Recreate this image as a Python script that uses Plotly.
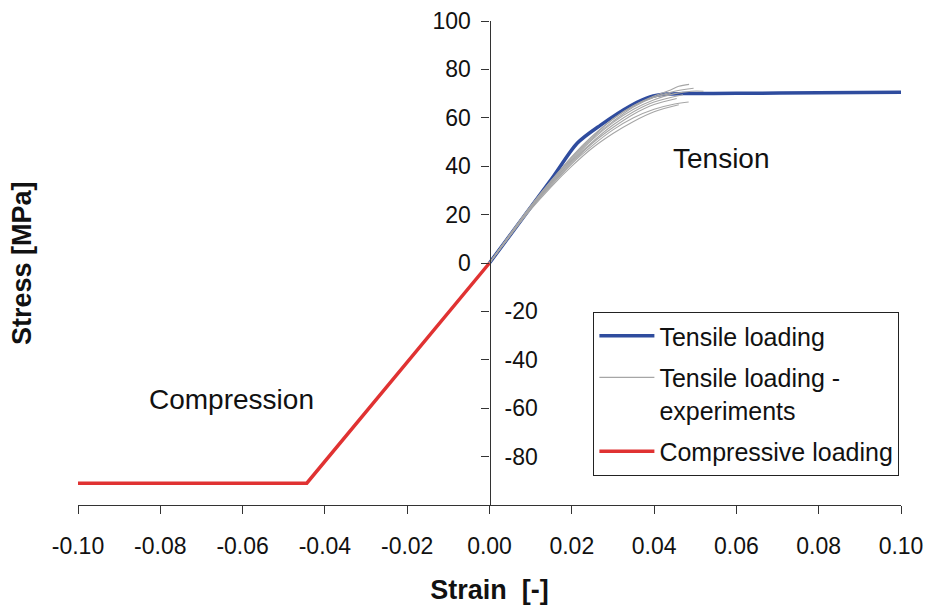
import plotly.graph_objects as go

# ---------------- data ----------------
tens_strain = [0.0, 0.006, 0.0152, 0.0213, 0.027, 0.0343, 0.039, 0.043, 0.047, 0.060, 0.080, 0.100]
tens_stress = [0.0, 13.8, 35.0, 49.5, 57.0, 65.0, 68.6, 69.8, 70.0, 70.1, 70.3, 70.6]

comp_strain = [-0.100, -0.0444, 0.0]
comp_stress = [-91.0, -91.0, 0.0]

exp_strain = [
    [0.0, 0.005, 0.010, 0.015, 0.020, 0.025, 0.030, 0.035, 0.040, 0.044, 0.046, 0.0485],
    [0.0, 0.005, 0.010, 0.015, 0.020, 0.025, 0.030, 0.035, 0.040, 0.045, 0.049, 0.052],
    [0.0, 0.005, 0.010, 0.015, 0.020, 0.025, 0.030, 0.035, 0.040, 0.045, 0.0496],
    [0.0, 0.005, 0.010, 0.015, 0.020, 0.025, 0.030, 0.035, 0.040, 0.045, 0.0484],
    [0.0, 0.005, 0.010, 0.015, 0.020, 0.025, 0.030, 0.035, 0.040, 0.046],
    [0.0, 0.005, 0.010, 0.015, 0.020, 0.025, 0.030, 0.035, 0.040, 0.044],
    [0.0, 0.005, 0.010, 0.015, 0.020, 0.025, 0.030, 0.035, 0.040, 0.047],
    [0.0, 0.005, 0.010, 0.015, 0.020, 0.025, 0.030, 0.035, 0.040, 0.0455],
]
exp_stress = [
    [0.0, 12.0, 23.5, 34.0, 44.0, 52.5, 59.5, 65.0, 69.0, 71.5, 73.0, 73.8],
    [0.0, 11.5, 23.0, 33.0, 42.5, 51.0, 58.0, 63.5, 67.5, 70.0, 71.0, 71.0],
    [0.0, 11.8, 23.2, 33.5, 43.0, 51.5, 58.5, 64.5, 68.5, 71.0, 72.2],
    [0.0, 11.3, 22.5, 32.0, 41.0, 48.5, 55.0, 60.0, 63.5, 65.7, 66.5],
    [0.0, 11.2, 22.0, 31.5, 40.0, 47.5, 53.5, 58.5, 62.5, 65.4],
    [0.0, 11.8, 23.5, 34.0, 43.5, 52.0, 59.5, 65.0, 68.5, 70.0],
    [0.0, 11.5, 22.8, 33.0, 42.0, 50.0, 57.0, 62.5, 66.5, 69.5],
    [0.0, 11.4, 22.6, 32.5, 41.5, 49.5, 56.0, 61.5, 65.5, 68.0],
]

y_pos_ticks = [0, 20, 40, 60, 80, 100]
y_neg_ticks = [-20, -40, -60, -80]
x_ticks = [-0.10, -0.08, -0.06, -0.04, -0.02, 0.00, 0.02, 0.04, 0.06, 0.08, 0.10]
x_tick_text = ["-0.10", "-0.08", "-0.06", "-0.04", "-0.02", "0.00",
               "0.02", "0.04", "0.06", "0.08", "0.10"]
y_neg_text = ["-20", "-40", "-60", "-80"]

FONT = "Liberation Sans, Arial, sans-serif"
BLUE = "#2F4C9E"
RED = "#E03232"
GRAY = "#A6A6A6"
AX = "#333333"

fig = go.Figure()

fig.add_trace(go.Scatter(x=tens_strain, y=tens_stress, mode="lines",
                         line=dict(color=BLUE, width=3.5, shape="spline", smoothing=0.8),
                         name="Tensile loading", legendrank=1,
                         legendgroup="a"))
for i, (xs, ys) in enumerate(zip(exp_strain, exp_stress)):
    fig.add_trace(go.Scatter(x=xs, y=ys, mode="lines",
                             line=dict(color=GRAY, width=1.1, shape="spline"),
                             name="Tensile loading -<br>experiments",
                             legendgroup="b", legendrank=2,
                             showlegend=(i == 0)))
fig.add_trace(go.Scatter(x=comp_strain, y=comp_stress, mode="lines",
                         line=dict(color=RED, width=3.5),
                         name="Compressive loading", legendrank=3,
                         legendgroup="c", yaxis="y2"))

fig.update_layout(
    width=929, height=608,
    margin=dict(l=78, r=28, t=21, b=103, autoexpand=False),
    paper_bgcolor="white", plot_bgcolor="white",
    font=dict(family=FONT, size=23, color="#111111"),
    showlegend=True,
    legend=dict(x=0.626, y=0.399, xanchor="left", yanchor="top",
                bordercolor="#222222", borderwidth=1.2, bgcolor="white",
                font=dict(size=25, color="#111111"),
                itemwidth=55, valign="top",
                tracegroupgap=6, traceorder="grouped"),
    xaxis=dict(range=[-0.10, 0.10], domain=[0, 1], automargin=False,
               tickvals=x_ticks, ticktext=x_tick_text,
               ticks="outside", ticklen=8, tickwidth=1.3, tickcolor=AX,
               showline=True, linecolor=AX, linewidth=1.3,
               showgrid=False, zeroline=False, ticklabelstandoff=12,
               title=dict(text="<b>Strain\u00a0\u00a0[-]</b>", font=dict(size=27), standoff=22),
               anchor="y"),
    yaxis=dict(range=[-100, 100], domain=[0, 1], automargin=False,
               anchor="free", position=0.5,
               tickvals=y_pos_ticks + y_neg_ticks,
               ticktext=[str(v) for v in y_pos_ticks] + ["" for _ in y_neg_ticks],
               ticks="outside", ticklen=8, tickwidth=1.3, tickcolor=AX,
               showline=True, linecolor=AX, linewidth=1.3,
               showgrid=False, zeroline=False, ticklabelstandoff=6),
    yaxis2=dict(range=[-100, 100], overlaying="y", anchor="free", position=0.5,
                automargin=False,
                side="right", tickvals=y_neg_ticks, ticktext=y_neg_text, ticks="",
                showline=False, showgrid=False, zeroline=False,
                ticklabelstandoff=14),
)

fig.add_annotation(text="Tension", x=0.0564, y=43.3, xref="x", yref="y",
                   showarrow=False, font=dict(size=28, color="#111111"))
fig.add_annotation(text="Compression", x=-0.0627, y=-56.5, xref="x", yref="y",
                   showarrow=False, font=dict(size=28, color="#111111"))
fig.add_annotation(text="<b>Stress [MPa]</b>", x=-0.068, y=0.5, xref="paper", yref="paper",
                   xanchor="center", yanchor="middle",
                   textangle=-90, showarrow=False, font=dict(size=27, color="#111111"))

fig.write_html("out.html", config={"displayModeBar": False},
               post_script="document.body.style.margin='0';document.body.style.padding='0';")
